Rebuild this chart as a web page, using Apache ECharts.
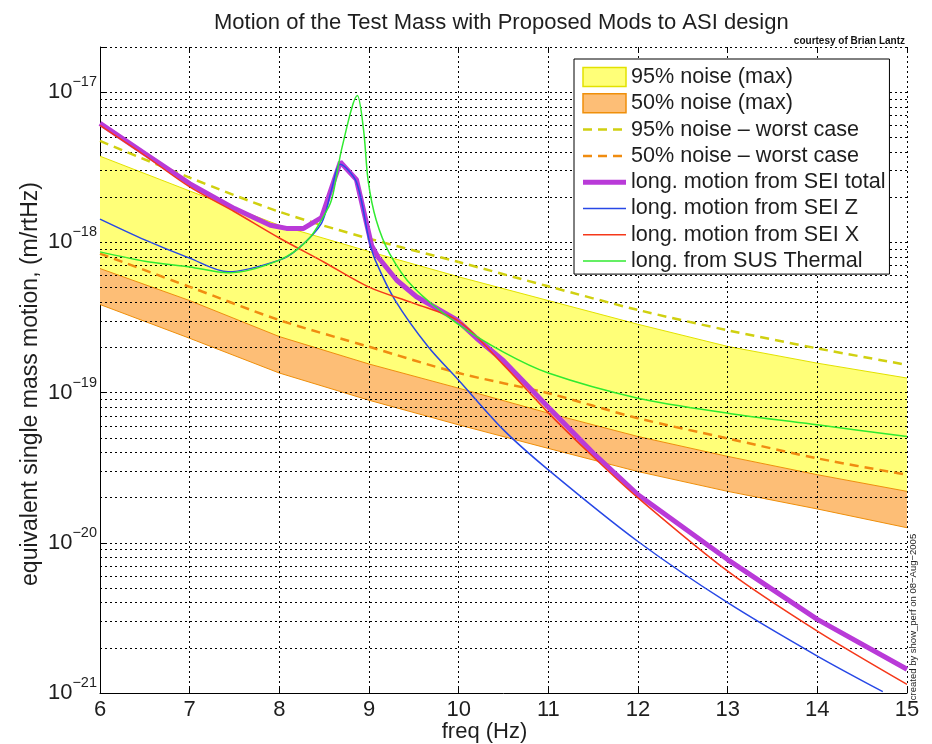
<!DOCTYPE html>
<html>
<head>
<meta charset="utf-8">
<title>Motion of the Test Mass with Proposed Mods to ASI design</title>
<script src="https://cdn.jsdelivr.net/npm/echarts@6/dist/echarts.min.js"></script>
<style>
  html, body { margin: 0; padding: 0; background: #fff; }
  #chart { width: 932px; height: 744px; }
</style>
</head>
<body>
<div id="chart"></div>
<script>
// ---- data, in m/rtHz ----
// noise bands, sampled at whole Hz
const bandFreq = [6, 7, 8, 9, 10, 11, 12, 13, 14, 15];
const noise95Max = [3.75e-18, 2.2e-18, 1.3e-18, 8.7e-19, 5.9e-19, 4.1e-19, 2.85e-19, 2.03e-19, 1.57e-19, 1.25e-19];
const noise50Max = [6.7e-19, 4.1e-19, 2.36e-19, 1.55e-19, 1.07e-19, 7.3e-20, 5.1e-20, 3.76e-20, 2.84e-20, 2.2e-20];
const noise50Min = [3.86e-19, 2.3e-19, 1.35e-19, 8.9e-20, 6.1e-20, 4.25e-20, 2.98e-20, 2.2e-20, 1.68e-20, 1.26e-20];
const noise95Worst = [4.74e-18, 2.7e-18, 1.6e-18, 1.06e-18, 7.4e-19, 5.1e-19, 3.55e-19, 2.6e-19, 1.97e-19, 1.53e-19];
const noise50Worst = [8.43e-19, 5.06e-19, 3.04e-19, 2.02e-19, 1.35e-19, 9.9e-20, 6.75e-20, 4.95e-20, 3.65e-20, 2.84e-20];

// long. motion from SEI total
const totalFreq = [6, 6.5, 7, 7.5, 7.9, 8.08, 8.27, 8.47, 8.68, 8.86, 9.03, 9.1, 9.31, 9.53, 9.98, 10.2, 10.5, 11, 11.5, 12, 13, 14, 15];
const totalVal = [6.2e-18, 3.9e-18, 2.46e-18, 1.68e-18, 1.3e-18, 1.24e-18, 1.24e-18, 1.46e-18, 3.43e-18, 2.62e-18, 9.5e-19, 8.0e-19, 5.6e-19, 4.35e-19, 3.05e-19, 2.3e-19, 1.63e-19, 8.0e-20, 3.96e-20, 2.09e-20, 7.73e-21, 3.09e-21, 1.44e-21];

// long. motion from SEI Z
const zFreq = [6, 6.5, 7, 7.43, 8, 8.21, 8.47, 8.58, 8.68, 8.86, 9.0, 9.07, 9.29, 9.66, 10, 10.5, 11, 12, 13, 14, 14.73];
const zVal = [1.43e-18, 1.04e-18, 7.86e-19, 6.37e-19, 7.62e-19, 9.1e-19, 1.34e-18, 2.22e-18, 3.31e-18, 2.52e-18, 1.04e-18, 7.62e-19, 4.13e-19, 2.02e-19, 1.21e-19, 5.65e-20, 3.06e-20, 1.02e-20, 3.99e-21, 1.76e-21, 1.02e-21];

// long. motion from SEI X
const xFreq = [6, 6.5, 7, 7.5, 8, 8.5, 9, 9.5, 10, 10.5, 11, 11.5, 12, 13, 14, 15];
const xVal = [6.01e-18, 3.79e-18, 2.34e-18, 1.6e-18, 1.07e-18, 7.38e-19, 5.04e-19, 3.93e-19, 2.99e-19, 1.53e-19, 7.33e-20, 3.74e-20, 1.99e-20, 6.47e-21, 2.58e-21, 1.14e-21];

// long. from SUS Thermal
const susFreq = [6, 6.5, 7, 7.43, 8, 8.32, 8.55, 8.6, 8.7, 8.87, 8.94, 8.99, 9.08, 9.23, 9.49, 9.98, 10.5, 11, 12, 13, 14, 15];
const susVal = [8.65e-19, 7.5e-19, 6.87e-19, 6.27e-19, 7.62e-19, 1.04e-18, 1.72e-18, 2.11e-18, 4.31e-18, 9.5e-18, 5.57e-18, 2.59e-18, 1.41e-18, 8.43e-19, 5.06e-19, 2.89e-19, 1.86e-19, 1.35e-19, 9.18e-20, 7.3e-20, 6.1e-20, 5.1e-20];

// axis range and grid lines
const yMin = 1e-21, yMax = 2e-17;
const gridXTicks = [7, 8, 9, 10, 11, 12, 13, 14, 15];
const gridMantissa = [1, 2, 3, 4, 5, 6, 7, 8, 9];
const gridDecades = [-21, -20, -19, -18, -17];

// ---- styling ----
const FONT = '"Liberation Sans", Arial, Helvetica, sans-serif';
const TXT = '#1e1e1e';
const C = {
  yFill: '#ffff78', yEdge: '#e2e200',
  oFill: '#fdbe76', oEdge: '#ef8f0a',
  yDash: '#d0d010', oDash: '#f08c10',
  total: '#b93ad8', z: '#2848e6', x: '#f5381a', sus: '#30ea30'
};

// the log scale misbehaves with values ~1e-21, so plot in units of 1e-21 m/rtHz
const UNIT = 1e-21, UNIT_EXP = -21;
const u = v => v / UNIT;

const gridY = [];
gridDecades.forEach(d => gridMantissa.forEach(m => {
  const v = m * Math.pow(10, d);
  if (v > yMin * 1.0001 && v < yMax * 1.0001) gridY.push(u(v));
}));

const pairs = (freq, vals) => freq.map((f, i) => [f, u(vals[i])]);

function band(name, upper, lower, fill, edge, edgeLower) {
  return {
    name: name, type: 'custom', z: 2, silent: true,
    itemStyle: { color: fill, borderColor: edge },
    data: [[bandFreq[0], u(upper[0])]],
    renderItem: function (params, api) {
      const top = bandFreq.map((f, i) => api.coord([f, u(upper[i])]));
      const bot = bandFreq.map((f, i) => api.coord([f, u(lower[i])]));
      const kids = [
        { type: 'polygon', shape: { points: top.concat(bot.slice().reverse()) }, style: { fill: fill } },
        { type: 'polyline', shape: { points: top }, style: { fill: null, stroke: edge, lineWidth: 1 } }
      ];
      if (edgeLower) {
        kids.push({ type: 'polyline', shape: { points: bot }, style: { fill: null, stroke: edge, lineWidth: 1 } });
      }
      return { type: 'group', children: kids };
    }
  };
}

function curve(name, freq, vals, color, width, dash, smooth) {
  return {
    name: name, type: 'line', z: 6, silent: true, symbol: 'none', clip: true,
    smooth: smooth || false,
    data: pairs(freq, vals),
    lineStyle: { color: color, width: width, type: dash || 'solid' },
    itemStyle: { color: color },
    emphasis: { disabled: true }
  };
}

// legend entry for a line: hide the marker the legend draws on top of the line
const lineEntry = (name, width) => ({ name: name, lineStyle: { width: width }, itemStyle: { opacity: 0 } });

const chart = echarts.init(document.getElementById('chart'), null, { renderer: 'canvas' });

const option = {
  animation: false,
  backgroundColor: '#fff',
  textStyle: { fontFamily: FONT },
  title: {
    text: 'Motion of the Test Mass with Proposed Mods to ASI design',
    left: 214, top: 12, padding: 0,
    textStyle: { fontSize: 22, fontWeight: 'normal', color: TXT, fontFamily: FONT }
  },
  grid: { left: 100, right: 25, top: 47, bottom: 51, containLabel: false, outerBoundsMode: 'none' },
  legend: {
    orient: 'vertical', left: 574, top: 59, z: 10,
    selectedMode: false,
    backgroundColor: '#fff', borderColor: '#000', borderWidth: 1, borderRadius: 0,
    padding: [7, 4, 2, 6.5],
    itemWidth: 43, itemHeight: 19, itemGap: 4.3,
    textStyle: { fontSize: 21.6, lineHeight: 22, color: TXT, fontFamily: FONT },
    data: [
      { name: '95% noise (max)', icon: 'rect', itemStyle: { color: C.yFill, borderColor: C.yEdge, borderWidth: 1.5 } },
      { name: '50% noise (max)', icon: 'rect', itemStyle: { color: C.oFill, borderColor: C.oEdge, borderWidth: 1.5 } },
      lineEntry('95% noise – worst case', 2.5),
      lineEntry('50% noise – worst case', 2.5),
      lineEntry('long. motion from SEI total', 5),
      lineEntry('long. motion from SEI Z', 1.5),
      lineEntry('long. motion from SEI X', 1.5),
      lineEntry('long. from SUS Thermal', 1.5)
    ]
  },
  xAxis: [{
    type: 'value', min: 6, max: 15, interval: 1,
    name: 'freq (Hz)', nameLocation: 'middle', nameGap: 28, nameMoveOverlap: false,
    nameTextStyle: { fontSize: 22, color: TXT, padding: [0, 38, 0, 0] },
    axisLine: { lineStyle: { color: '#000', width: 1 } },
    axisTick: { inside: true, length: 5, lineStyle: { color: '#000' } },
    axisLabel: { fontSize: 22, color: TXT, margin: 6 },
    splitLine: { show: false }
  }, {
    type: 'value', position: 'top', min: 6, max: 15, interval: 1,
    axisLine: { show: false },
    axisTick: { inside: true, length: 4, lineStyle: { color: '#000' } },
    axisLabel: { show: false },
    splitLine: { show: false }
  }],
  yAxis: {
    type: 'log', logBase: 10, min: u(yMin), max: u(yMax),
    name: 'equivalent single mass motion, (m/rtHz)', nameLocation: 'middle', nameGap: 58, nameMoveOverlap: false,
    nameTextStyle: { fontSize: 23, color: TXT, padding: [0, 28, 0, 0] },
    axisLine: { show: true, lineStyle: { color: '#000', width: 1 } },
    axisTick: { inside: true, length: 5, lineStyle: { color: '#000' } },
    axisLabel: {
      margin: 3,
      formatter: function (v) {
        const e = Math.log10(v);
        const r = Math.round(e);
        if (Math.abs(e - r) > 1e-6) return '';
        const p = r + UNIT_EXP;
        return '{b|10}{s|' + (p < 0 ? '\u2212' + (-p) : p) + '}';
      },
      rich: {
        b: { fontSize: 22, color: TXT, fontFamily: FONT },
        s: { fontSize: 14.5, color: TXT, fontFamily: FONT, padding: [0, 0, 20, 0] }
      }
    },
    splitLine: { show: false }
  },
  graphic: [
    {
      type: 'text', x: 905, y: 41, z: 20,
      style: { text: 'courtesy of Brian Lantz', align: 'right', verticalAlign: 'middle',
               font: 'bold 10px ' + FONT, fill: '#111' }
    },
    {
      type: 'text', x: 913, y: 617, rotation: Math.PI / 2, z: 20,
      style: { text: 'created by show_perf on 08\u2212Aug\u22122005', align: 'center', verticalAlign: 'middle',
               font: '9.5px ' + FONT, fill: '#222' }
    }
  ],
  series: [
    band('95% noise (max)', noise95Max, noise50Max, C.yFill, C.yEdge, false),
    band('50% noise (max)', noise50Max, noise50Min, C.oFill, C.oEdge, true),
    {
      name: 'grid', type: 'line', silent: true, symbol: 'none',
      data: [[6, u(yMin)]], lineStyle: { width: 0 },
      markLine: {
        silent: true, symbol: ['none', 'none'], animation: false,
        label: { show: false },
        emphasis: { disabled: true },
        lineStyle: { color: '#000', width: 1, type: [2, 3] },
        data: gridY.map(v => ({ yAxis: v })).concat(gridXTicks.map(v => ({ xAxis: v })))
      }
    },
    curve('95% noise – worst case', bandFreq, noise95Worst, C.yDash, 2.5, [9, 6], 0.3),
    curve('50% noise – worst case', bandFreq, noise50Worst, C.oDash, 2.5, [9, 6], 0.3),
    curve('long. motion from SEI total', totalFreq, totalVal, C.total, 5),
    curve('long. motion from SEI Z', zFreq, zVal, C.z, 1.5, null, 0.3),
    curve('long. motion from SEI X', xFreq, xVal, C.x, 1.5, null, 0.3),
    curve('long. from SUS Thermal', susFreq, susVal, C.sus, 1.5, null, 0.3)
  ]
};

chart.setOption(option);
</script>
</body>
</html>
